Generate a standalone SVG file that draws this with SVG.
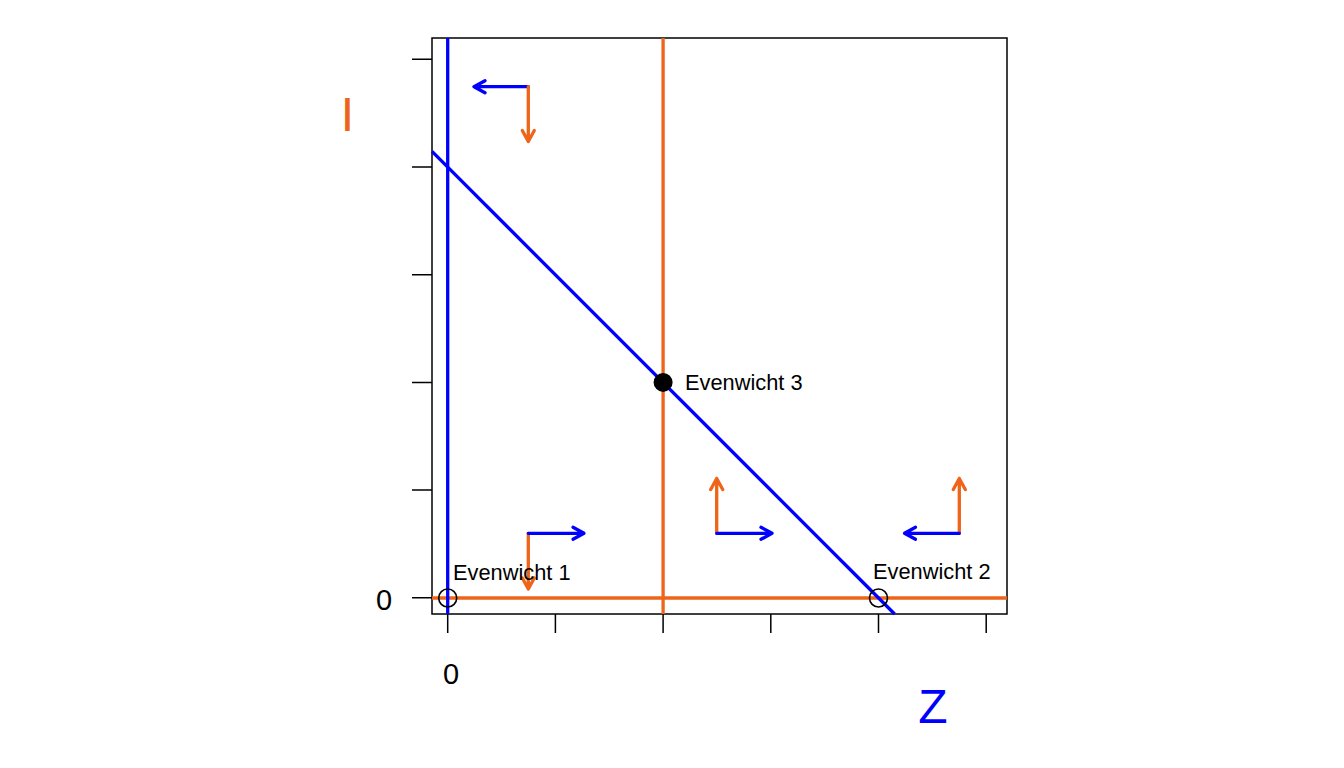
<svg xmlns="http://www.w3.org/2000/svg" width="1344" height="768" viewBox="0 0 1344 768">
<style>
.ax{stroke:#000;stroke-width:1.5;fill:none}
.b{stroke:#0000FF;stroke-width:3.3;fill:none}
.o{stroke:#EE6419;stroke-width:3.3;fill:none}
.t{font-family:"Liberation Sans",Arial,sans-serif;fill:#000}
.ah{stroke-linecap:round;stroke-linejoin:round}
</style>
<rect width="1344" height="768" fill="#fff"/>
<g id="axes">
<rect class="ax" x="432" y="38" width="575" height="576"/>
<path class="ax" d="M412 59.3H432M412 167H432M412 274.7H432M412 382.4H432M412 490.1H432M412 597.8H432"/>
<path class="ax" d="M447.7 614V633M555.4 614V633M663.1 614V633M770.8 614V633M878.5 614V633M986.2 614V633"/>
<text class="t" x="384" y="610" font-size="29" text-anchor="middle">0</text>
<text class="t" x="451" y="684" font-size="29" text-anchor="middle">0</text>
<text class="t" x="347.5" y="131" font-size="48" text-anchor="middle" style="fill:#EE6419">I</text>
<text class="t" x="933" y="723" font-size="48" text-anchor="middle" style="fill:#0000FF">Z</text>
</g>
<g id="connectors">
<line class="o" x1="432" y1="598" x2="1007" y2="598"/>
<line class="o" x1="663.1" y1="38" x2="663.1" y2="614"/>
<line class="b" x1="447.7" y1="38" x2="447.7" y2="614"/>
<line class="b" x1="432" y1="151.4" x2="894.6" y2="614"/>
</g>
<g id="arrows">
<path class="b ah" d="M528.3 86.7H474M485 80.7L474 86.7L485 92.7"/>
<path class="o ah" d="M528.3 86.7V141.5M522.3 130.5L528.3 141.5L534.3 130.5"/>
<path class="o ah" d="M528.3 533.3V589M522.3 578L528.3 589L534.3 578"/>
<path class="b ah" d="M528.3 533.3H584M573 527.3L584 533.3L573 539.3"/>
<path class="o ah" d="M716.7 533.3V478.5M710.7 489.5L716.7 478.5L722.7 489.5"/>
<path class="b ah" d="M716.7 533.3H772M761 527.3L772 533.3L761 539.3"/>
<path class="o ah" d="M959.3 533.3V478.5M953.3 489.5L959.3 478.5L965.3 489.5"/>
<path class="b ah" d="M959.3 533.3H904.5M915.5 527.3L904.5 533.3L915.5 539.3"/>
</g>
<g id="eq1">
<circle cx="447.7" cy="598" r="9" fill="none" stroke="#000" stroke-width="1.6"/>
<text class="t" x="453" y="580" font-size="21.8">Evenwicht 1</text>
</g>
<g id="eq2">
<circle cx="878.5" cy="598" r="9" fill="none" stroke="#000" stroke-width="1.6"/>
<text class="t" x="873" y="579" font-size="21.8">Evenwicht 2</text>
</g>
<g id="eq3">
<circle cx="663.1" cy="382.4" r="9.5" fill="#000"/>
<text class="t" x="685" y="390" font-size="21.8">Evenwicht 3</text>
</g>
</svg>
